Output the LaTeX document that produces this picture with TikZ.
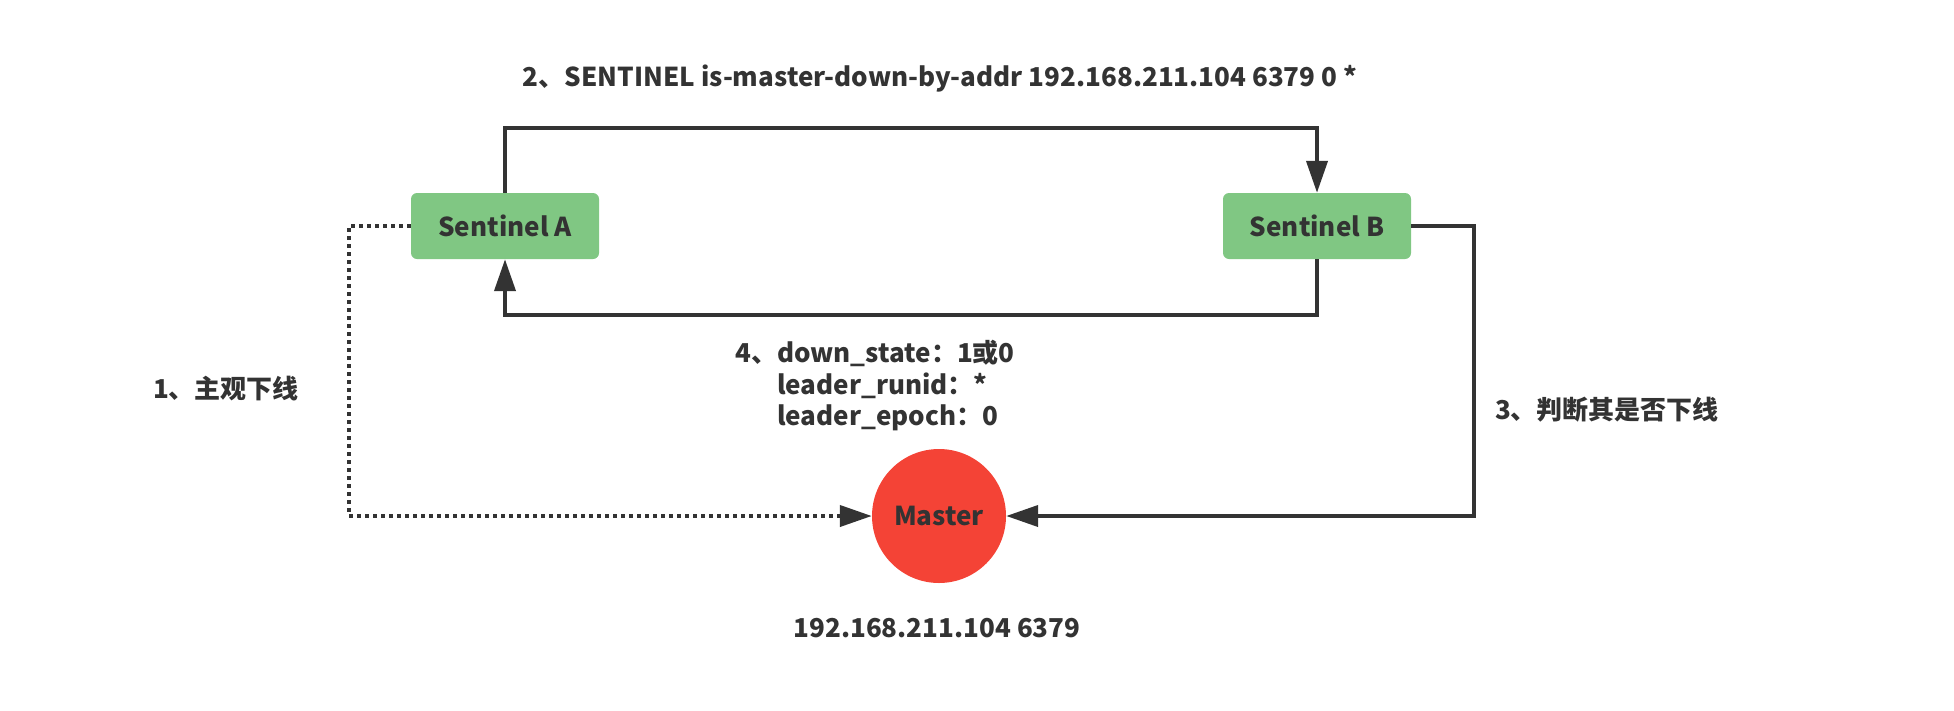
\documentclass[tikz,border=0pt]{standalone}
\usepackage{fontspec}
\setmainfont{Noto Sans CJK SC}
\usetikzlibrary{arrows.meta}
\definecolor{lc}{HTML}{333333}
\definecolor{gfill}{HTML}{80C783}
\definecolor{rfill}{HTML}{F44336}
\tikzset{
  sbox/.style={fill=gfill, rounded corners=6pt, minimum width=188pt, minimum height=66pt, inner sep=0pt, text=lc, font=\fontsize{26}{31}\selectfont\bfseries},
  mnode/.style={circle, fill=rfill, minimum size=134pt, inner sep=0pt, text=lc, font=\fontsize{26}{31}\selectfont\bfseries},
  txt/.style={text=lc, inner sep=0pt, font=\fontsize{26}{31.5}\selectfont\bfseries},
  conn/.style={draw=lc, line width=4pt, -{Triangle[length=32pt,width=21pt]}},
  dconn/.style={conn, dash pattern=on 4pt off 4pt},
}
\begin{document}
\begin{tikzpicture}[x=1pt,y=-1pt]
\useasboundingbox (0,0) rectangle (1954,710);
\node[sbox] (A) at (505,226) {Sentinel A};
\node[sbox] (B) at (1317,226) {Sentinel B};
\node[mnode] (M) at (939,516) {Master};
\coordinate (top) at (0,128);
\coordinate (bot) at (0,315);
\coordinate (lx) at (349,0);
\coordinate (rx) at (1474,0);
\draw[conn] (A.north) -- (A.north |- top) -| (B.north);
\draw[conn] (B.south) -- (B.south |- bot) -| (A.south);
\draw[dconn] (A.west) -- (A.west -| lx) |- (M.west);
\draw[conn] (B.east) -- (B.east -| rx) |- (M.east);
\node[txt] (l2) at (940,79) {2、SENTINEL is-master-down-by-addr 192.168.211.104 6379 0 *};
\node[txt] (l1) at (226,389) {1、主观下线};
\node[txt] (l3) at (1607,410) {3、判断其是否下线};
\node[txt, anchor=north west, align=left] (l4) at (735,340) {4、down\_state：1或0\\\phantom{4、}leader\_runid：*\\\phantom{4、}leader\_epoch：0};
\node[txt] (ip) at (937,628) {192.168.211.104 6379};
\end{tikzpicture}
\end{document}
